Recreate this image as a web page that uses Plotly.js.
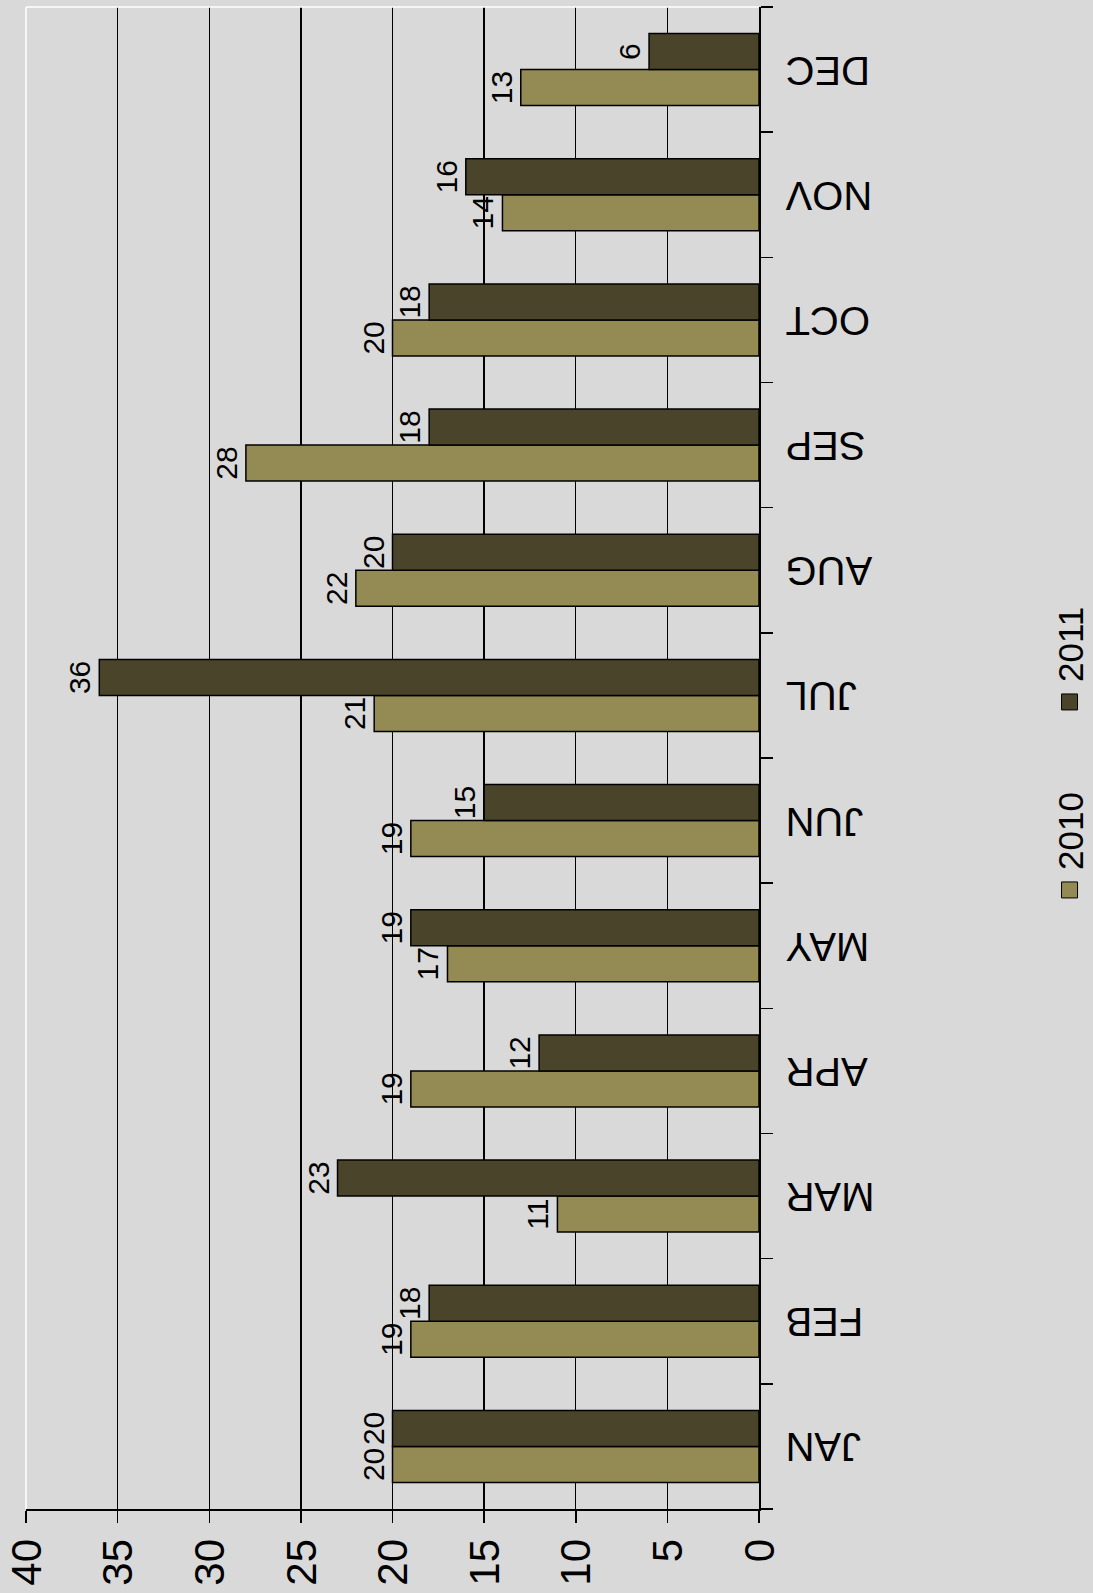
<!DOCTYPE html>
<html>
<head>
<meta charset="utf-8">
<script src="https://cdn.plot.ly/plotly-3.0.1.min.js"></script>
<style>
  html, body { margin: 0; padding: 0; width: 1093px; height: 1593px; overflow: hidden; background: #d9d9d9; }
  #chart { position: absolute; left: 0; top: 0; width: 1593px; height: 1093px;
           transform-origin: 0 0; transform: translateY(1593px) rotate(-90deg); }
</style>
</head>
<body>
<div id="chart"></div>
<script>
const months = ['JAN','FEB','MAR','APR','MAY','JUN','JUL','AUG','SEP','OCT','NOV','DEC'];
const values2010 = [20, 19, 11, 19, 17, 19, 21, 22, 28, 20, 14, 13];
const values2011 = [20, 18, 23, 12, 19, 15, 36, 20, 18, 18, 16, 6];
const seriesNames = ['2010', '2011'];
const valueTicks = [0, 5, 10, 15, 20, 25, 30, 35, 40];

const colors = ['#948a54', '#4a452a'];
const FONT = '"Liberation Sans", Arial, sans-serif';

function barTrace(name, vals, color) {
  return {
    type: 'bar', name: name, x: months, y: vals,
    marker: { color: color, line: { color: '#000', width: 1.5 } },
    text: vals.map(String), textposition: 'outside', textangle: 0,
    outsidetextfont: { family: FONT, size: 30, color: '#000' },
    cliponaxis: false, showlegend: false, hoverinfo: 'skip'
  };
}
function legendTrace(name, color) {
  return {
    type: 'scatter', mode: 'markers', name: name, x: [null], y: [null],
    marker: { symbol: 'square', size: 20, color: color, line: { color: '#000', width: 1 } },
    showlegend: true, hoverinfo: 'skip'
  };
}

const data = [
  barTrace(seriesNames[0], values2010, colors[0]),
  barTrace(seriesNames[1], values2011, colors[1]),
  legendTrace(seriesNames[0], colors[0]),
  legendTrace(seriesNames[1], colors[1])
];

const layout = {
  width: 1593, height: 1093,
  margin: { l: 84, r: 7, t: 26, b: 334, autoexpand: false },
  paper_bgcolor: '#d9d9d9', plot_bgcolor: '#d9d9d9',
  font: { family: FONT, color: '#000' },
  barmode: 'group', bargap: 0.425, bargroupgap: 0,
  xaxis: {
    type: 'category', categoryorder: 'array', categoryarray: months,
    showline: true, linecolor: '#000', linewidth: 1.5,
    ticks: 'outside', ticklen: 12, tickwidth: 1.5, tickcolor: '#000',
    tickson: 'boundaries', tickangle: -90, showgrid: false,
    tickfont: { family: FONT, size: 40, color: '#000' },
    ticklabelstandoff: 9, automargin: false
  },
  yaxis: {
    range: [0, 40], tickvals: valueTicks, ticktext: valueTicks.map(String),
    showline: true, linecolor: '#000', linewidth: 1.5,
    ticks: 'outside', ticklen: 12, tickwidth: 1.5, tickcolor: '#000',
    showgrid: true, gridcolor: '#000', gridwidth: 1.3, zeroline: false,
    tickfont: { family: FONT, size: 42, color: '#000' },
    ticklabelstandoff: 8, automargin: false
  },
  legend: {
    orientation: 'h', x: 0.524, xanchor: 'center', y: -0.424, yanchor: 'middle',
    font: { family: FONT, size: 35, color: '#000' },
    bgcolor: 'rgba(0,0,0,0)', entrywidth: 143
  },
  shapes: [
    { type: 'line', xref: 'paper', yref: 'paper', x0: 0, x1: 1, y0: 1, y1: 1, line: { color: '#fff', width: 1.5 }, layer: 'above' },
    { type: 'line', xref: 'paper', yref: 'paper', x0: 1, x1: 1, y0: 0, y1: 1, line: { color: '#fff', width: 1.5 }, layer: 'above' }
  ],
  hovermode: false
};

Plotly.newPlot('chart', data, layout, { staticPlot: true, displayModeBar: false });
</script>
</body>
</html>
